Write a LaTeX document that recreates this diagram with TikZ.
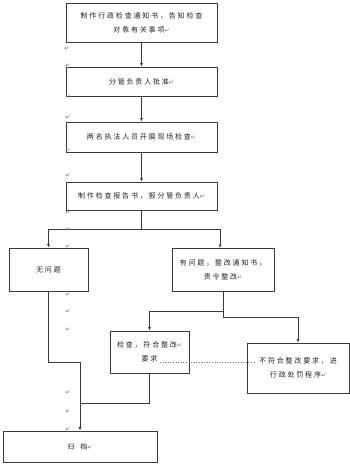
\documentclass[tikz,border=0pt]{standalone}
\usepackage{fontspec}
\newfontfamily\cjk[LetterSpace=26]{Noto Sans CJK SC}
\newfontfamily\pmfont{DejaVu Sans}
\usetikzlibrary{arrows.meta}
\definecolor{linegray}{HTML}{3A3A3A}
\definecolor{pmgray}{HTML}{707070}
\definecolor{txt}{HTML}{202020}
\newcommand{\pmk}{{\pmfont\fontsize{6}{6}\selectfont\textcolor{pmgray}{↵}}}
\begin{document}
\begin{tikzpicture}[x=1pt,y=-1pt,
  box/.style={draw=linegray,line width=0.8pt,inner sep=0pt,align=center,text=txt,
    font=\cjk\fontsize{7}{14}\selectfont},
  conn/.style={draw=linegray,line width=0.8pt},
  arr/.style={conn,-{Latex[length=3.5pt,width=3pt]}},
  pm/.style={inner sep=0pt,font=\pmfont\fontsize{6}{6}\selectfont,text=pmgray},
  dotl/.style={draw=pmgray,line width=0.6pt,dotted}]
\fill[white] (0,0) rectangle (350,466);
\useasboundingbox (0,0) rectangle (350,466);

\node[box,minimum width=151pt,minimum height=39pt] (b1) at (141.5,22.5)
  {制作行政检查通知书，告知检查\\对象有关事项\pmk};
\node[box,minimum width=151pt,minimum height=29pt] (b2) at (141.5,81.5)
  {分管负责人批准\pmk};
\node[box,minimum width=151pt,minimum height=30pt] (b3) at (141.5,137)
  {两名执法人员开展现场检查\pmk};
\node[box,minimum width=151pt,minimum height=28pt] (b4) at (141.5,196)
  {制作检查报告书，报分管负责人\pmk};
\node[box,minimum width=79pt,minimum height=43pt] (b5) at (48.5,269.5)
  {无问题};
\node[box,minimum width=102pt,minimum height=43pt] (b6) at (223,269.5)
  {有问题，整改通知书，\\责令整改\pmk};
\node[box,minimum width=79pt,minimum height=42pt] (b7) at (149.5,352)
  {检查，符合整改\pmk\\要求};
\node[box,minimum width=102pt,minimum height=50pt] (b8) at (298,368)
  {不符合整改要求，进\\行政处罚程序\pmk};
\node[box,minimum width=154pt,minimum height=31pt] (b9) at (80,446.5)
  {归\hspace{6pt}档\pmk};

% connectors
\draw[arr] (b1) -- (b2);
\draw[arr] (b2) -- (b3);
\draw[arr] (b3) -- (b4);
\coordinate (j1) at (141.5,229);
\coordinate (j2) at (220,229);
\coordinate (t6) at (220,248);
\draw[conn] (b4.south) -- (j1);
\draw[arr] (j1) -| (b5.north);
\draw[arr] (j1) -- (j2) -- (t6);
\coordinate (s1) at (223,311);
\coordinate (s2) at (223,317);
\draw[arr] (b6.south) -- (s1) -| (b7.north);
\draw[arr] (b6.south) -- (s2) -| (b8.north);
\coordinate (k1) at (80,362);
\coordinate (k2) at (80,403);
\draw[arr] (b5.south) |- (k1) -- (b9.north);
\draw[conn] (b7.south) |- (k2);
\coordinate (d1) at (160,362);
\coordinate (d2) at (254,362);
\draw[dotl] (d1) -- (d2);

% stray paragraph marks
\node[pm] (m1) at (67,49) {↵};
\node[pm] (m2) at (68,66) {↵};
\node[pm] (m3) at (68,97) {↵};
\node[pm] (m4) at (68,118) {↵};
\node[pm] (m5) at (68,151) {↵};
\node[pm] (m6) at (68,176) {↵};
\node[pm] (m7) at (68,213) {↵};
\node[pm] (m8) at (68,230) {↵};
\node[pm] (m9) at (68,247) {↵};
\node[pm] (m10) at (68,295) {↵};
\node[pm] (m11) at (68,312) {↵};
\node[pm] (m12) at (68,330) {↵};
\node[pm] (m13) at (68,393) {↵};
\node[pm] (m14) at (68,412) {↵};
\node[pm] (m15) at (68,430) {↵};
\end{tikzpicture}
\end{document}
